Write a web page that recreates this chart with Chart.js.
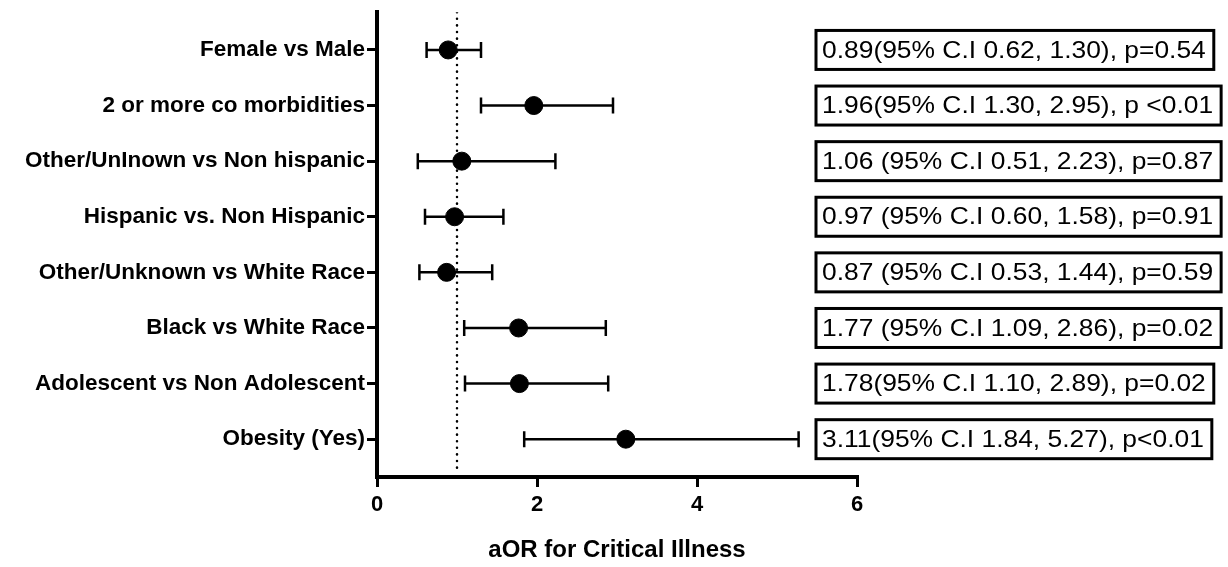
<!DOCTYPE html>
<html>
<head>
<meta charset="utf-8">
<script src="https://cdn.jsdelivr.net/npm/chart.js@4"></script>
<style>
  html, body { margin: 0; padding: 0; background: #fff; }
  #wrap { width: 1228px; height: 567px; position: relative; }
</style>
</head>
<body>
<div id="wrap"><canvas id="forest"></canvas></div>
<script>
// rows from top to bottom
const categories = [
    'Female vs Male',
    '2 or more co morbidities',
    'Other/UnInown vs Non hispanic',
    'Hispanic vs. Non Hispanic',
    'Other/Unknown vs White Race',
    'Black vs White Race',
    'Adolescent vs Non Adolescent',
    'Obesity (Yes)'
];
const aor = [0.89, 1.96, 1.06, 0.97, 0.87, 1.77, 1.78, 3.11];
const ciLow = [0.62, 1.30, 0.51, 0.60, 0.53, 1.09, 1.10, 1.84];
const ciHigh = [1.30, 2.95, 2.23, 1.58, 1.44, 2.86, 2.89, 5.27];
const boxTexts = [
    '0.89(95% C.I 0.62, 1.30), p=0.54',
    '1.96(95% C.I 1.30, 2.95), p <0.01',
    '1.06 (95% C.I 0.51, 2.23), p=0.87',
    '0.97 (95% C.I 0.60, 1.58), p=0.91',
    '0.87 (95% C.I 0.53, 1.44), p=0.59',
    '1.77 (95% C.I 1.09, 2.86), p=0.02',
    '1.78(95% C.I 1.10, 2.89), p=0.02',
    '3.11(95% C.I 1.84, 5.27), p<0.01'
];
const xTicks = [0, 2, 4, 6];
const refValue = 1;

const FONT = 'Arial, "Liberation Sans", sans-serif';

// whiskers: one small line dataset per row, caps drawn as rotated 'line' points
const ciDatasets = categories.map((c, i) => ({
    type: 'line',
    label: c + ' CI',
    data: [{ x: ciLow[i], y: i + 1 }, { x: ciHigh[i], y: i + 1 }],
    borderColor: '#000',
    borderWidth: 2.5,
    pointStyle: 'line',
    rotation: 90,
    pointRadius: 8,
    pointBorderWidth: 2.5,
    pointBorderColor: '#000',
    fill: false
}));

const refLine = {
    type: 'line',
    label: 'ref',
    data: [{ x: refValue, y: 0.32 }, { x: refValue, y: 8.55 }],
    borderColor: '#000',
    borderWidth: 2.5,
    borderDash: [0.1, 6.5],
    borderCapStyle: 'round',
    pointRadius: 0,
    fill: false
};

const pointSet = {
    type: 'scatter',
    label: 'aOR',
    data: aor.map((v, i) => ({ x: v, y: i + 1 })),
    backgroundColor: '#000',
    borderColor: '#000',
    pointRadius: 9
};

// text boxes to the right of the plot, one per row (text is a bit wide in the original)
const boxPlugin = {
    id: 'ciBoxes',
    afterDraw(chart) {
        const ctx = chart.ctx;
        const yScale = chart.scales.y;
        const sx = 1.1;
        ctx.save();
        ctx.font = '24px ' + FONT;
        ctx.textBaseline = 'middle';
        ctx.fillStyle = '#000';
        ctx.strokeStyle = '#000';
        ctx.lineWidth = 3;
        boxTexts.forEach((t, i) => {
            const yc = yScale.getPixelForValue(i + 1);
            const w = ctx.measureText(t).width * sx;
            const left = 816;
            ctx.strokeRect(left, yc - 19.5, w + 14, 39);
            ctx.save();
            ctx.translate(left + 6, yc + 1);
            ctx.scale(sx, 1);
            ctx.fillText(t, 0, 0);
            ctx.restore();
        });
        ctx.restore();
    }
};

new Chart(document.getElementById('forest'), {
    data: { datasets: [refLine, ...ciDatasets, pointSet] },
    options: {
        responsive: true,
        maintainAspectRatio: false,
        animation: false,
        layout: { padding: { top: 0, right: 371, bottom: 0, left: 0 } },
        plugins: {
            legend: { display: false },
            tooltip: { enabled: false }
        },
        scales: {
            x: {
                type: 'linear',
                min: 0,
                max: 6,
                afterBuildTicks: s => { s.ticks = xTicks.map(v => ({ value: v })); },
                afterFit: s => { s.height = 90; },
                border: { display: true, color: '#000', width: 4 },
                grid: { drawOnChartArea: false, color: '#000', lineWidth: 3, tickLength: 10 },
                ticks: { color: '#000', font: { family: FONT, size: 22, weight: 'bold' }, padding: 5 },
                title: {
                    display: true,
                    text: 'aOR for Critical Illness',
                    color: '#000',
                    font: { family: FONT, size: 24, weight: 'bold' },
                    padding: { top: 4, bottom: 2 }
                }
            },
            y: {
                type: 'linear',
                reverse: true,
                min: 0.32,
                max: 8.68,
                afterBuildTicks: s => { s.ticks = categories.map((c, i) => ({ value: i + 1 })); },
                afterFit: s => { s.width = 377; },
                border: { display: true, color: '#000', width: 4 },
                grid: { drawOnChartArea: false, color: '#000', lineWidth: 3, tickLength: 10 },
                ticks: {
                    color: '#000',
                    font: { family: FONT, size: 22.5, weight: 'bold', lineHeight: 0.9 },
                    padding: 2,
                    callback: v => categories[v - 1]
                }
            }
        }
    },
    plugins: [boxPlugin]
});
</script>
</body>
</html>
